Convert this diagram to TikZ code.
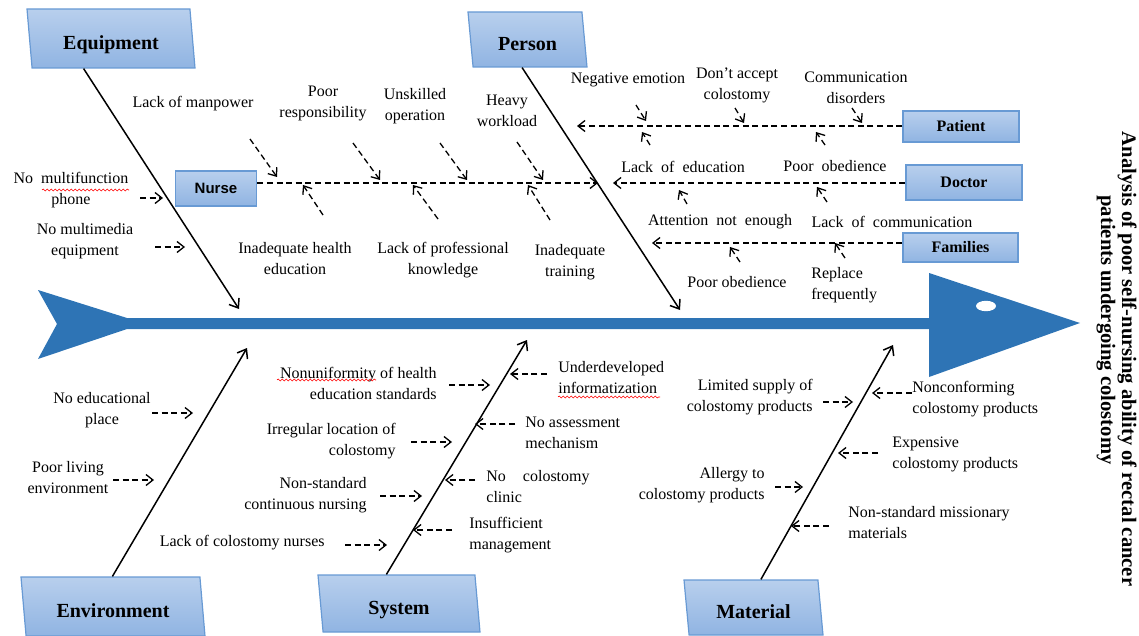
\documentclass[tikz,border=0pt]{standalone}
\usepackage{fontspec}
\setmainfont{Liberation Serif}
\newfontfamily\nursefont{Liberation Sans}
\usetikzlibrary{shapes.geometric}
\usetikzlibrary{arrows.meta}
\usetikzlibrary{calc}
\usetikzlibrary{decorations.pathmorphing}
\definecolor{spineblue}{RGB}{46,116,181}
\definecolor{boxtop}{RGB}{184,207,237}
\definecolor{boxbot}{RGB}{144,180,226}
\definecolor{boxedge}{RGB}{104,154,212}

\begin{document}
\begin{tikzpicture}[x=0.5pt,y=-0.5pt]
            \tikzset{bone/.style={line width=0.75pt,-{Straight Barb[length=4pt,width=6pt]}}};
            \tikzset{cause/.style={line width=0.65pt,dash pattern=on 3pt off 1.8pt,-{Straight Barb[length=3.5pt,width=5.5pt]}}};
            \tikzset{lbl/.style={inner sep=0pt,align=center,font=\fontsize{8}{10.5}\selectfont}};
            \tikzset{catbox/.style={trapezium,trapezium left angle=103,trapezium right angle=77,trapezium stretches body,draw=boxedge,line width=0.6pt,top color=boxtop,bottom color=boxbot,inner sep=0pt,text height=11pt,text depth=0pt,font=\fontsize{10}{12}\selectfont\bfseries}};
            \tikzset{subbox/.style={rectangle,draw=boxedge,line width=0.8pt,top color=boxtop,bottom color=boxbot,inner sep=0pt,font=\fontsize{8}{10}\selectfont\bfseries}};
            \tikzset{spell/.style={red,line width=0.3pt,decorate,decoration={snake,segment length=2pt,amplitude=0.5pt}}};

            \useasboundingbox (0,0) rectangle (1139,636);

            \fill[spineblue] (38,290) -- (127,318) -- (929,318) -- (929,273) -- (1080,323) -- (929,377) -- (929,329) -- (127,329) -- (38,359) -- (57,324) -- cycle;
            \fill[white] (986,306) ellipse [x radius=5pt,y radius=2.6pt];

            \node[catbox,minimum width=84pt,minimum height=29.5pt] (equip) at (111,38.5) {Equipment};
            \node[catbox,minimum width=59.5pt,minimum height=27.5pt] (person) at (527.5,39.5) {Person};
            \node[catbox,minimum width=92pt,minimum height=29.5pt] (envir) at (113,606.5) {Environment};
            \node[catbox,minimum width=81pt,minimum height=28.5pt] (system) at (399,603.5) {System};
            \node[catbox,minimum width=69.5pt,minimum height=27.5pt] (material) at (753.5,607.5) {Material};

            \coordinate (eqend) at (239,309);
            \coordinate (peend) at (680,310);
            \coordinate (enend) at (247,348);
            \coordinate (syend) at (527,340);
            \coordinate (maend) at (893,345);
            \draw[bone] ($(equip.bottom side)+(-30,0)$) -- (eqend);
            \draw[bone] ($(person.bottom side)+(-8,0)$) -- (peend);
            \draw[bone] ($(envir.top side)+(2,0)$) -- (enend);
            \draw[bone] ($(system.top side)+(-10,0)$) -- (syend);
            \draw[bone] ($(material.top side)+(10,0)$) -- (maend);

            \node[subbox,minimum width=40.5pt,minimum height=17.5pt,font=\nursefont\fontsize{7.5}{9}\selectfont\bfseries] (nurse) at (216,188.5) {Nurse};
            \node[subbox,minimum width=58pt,minimum height=15.5pt] (patient) at (961,126.5) {Patient};
            \node[subbox,minimum width=58pt,minimum height=17.5pt] (doctor) at (964,182.5) {Doctor};
            \node[subbox,minimum width=57.5pt,minimum height=14.5pt] (families) at (960.5,247.5) {Families};

            \coordinate (nurseend) at (598,183);
            \coordinate (patend) at (577,126);
            \coordinate (docend) at (613,183);
            \coordinate (famend) at (652,243);
            \draw[cause] (nurse.east |- nurseend) -- (nurseend);
            \draw[cause] (patient.west |- patend) -- (patend);
            \draw[cause] (doctor.west |- docend) -- (docend);
            \draw[cause] (families.west |- famend) -- (famend);

            \foreach \n/\ax/\ay/\bx/\by in {
                eqa/140/198/163/198, eqb/155/247/185/247,
                nua/250/139/277/177, nub/353/143/380/180, nuc/440/143/467/180, nud/517/142/543/180,
                nue/323/215/303/185, nuf/438/219/413/185, nug/550/220/528/185,
                paa/636/105/646/121, pab/735/108/744/123, pac/852/108/862/123,
                pad/650/145/642/132, pae/825/145/816/132,
                doa/687/204/679/190, dob/827/202/817/187,
                faa/740/262/730/247, fab/845/258/835/243,
                ena/152/413/193/413, enb/113/480/154/480,
                sya/449/385/490/385, syb/411/442/452/442, syc/380/496/422/496, syd/345/545/387/545,
                sye/547/374/510/374, syf/515/424/475/424, syg/475/480/445/480, syh/452/530/413/530,
                maa/823/402/853/402, mab/775/487/803/487,
                mac/912/393/872/393, mad/878/453/838/453, mae/829/526/791/526}
            {
                \coordinate (\n-from) at (\ax,\ay);
                \coordinate (\n-to) at (\bx,\by);
                \draw[cause] (\n-from) -- (\n-to);
            }

            \node[lbl] (multifn) at (71,190) {No\ \ multifunction\\phone};
            \node[lbl] (multimedia) at (85,241) {No multimedia\\equipment};

            \node[lbl] (manpower) at (193,104) {Lack of manpower};
            \node[lbl] (respons) at (323,103) {Poor\\responsibility};
            \node[lbl] (unskilled) at (415,106) {Unskilled\\operation};
            \node[lbl] (workload) at (507,110.5) {Heavy\\workload};
            \node[lbl] (healthedu) at (295,258.5) {Inadequate health\\education};
            \node[lbl] (profknow) at (443,260.5) {Lack of professional\\knowledge};
            \node[lbl] (training) at (570,262) {Inadequate\\training};

            \node[lbl] (negemo) at (628,80) {Negative emotion};
            \node[lbl] (noaccept) at (737,85) {Don't accept\\colostomy};
            \node[lbl] (commdis) at (856,88) {Communication\\disorders};
            \node[lbl] (lackedu) at (683,167) {Lack\ \ of\ \ education};
            \node[lbl] (docobey) at (835,166) {Poor\ \ obedience};
            \node[lbl] (attention) at (720,222) {Attention\ \ not\ \ enough};
            \node[lbl] (lackcomm) at (892,222) {Lack\ \ of\ \ communication};
            \node[lbl] (famobey) at (737,282) {Poor obedience};
            \node[lbl,anchor=west,align=left] (replace) at (811,285.5) {Replace\\frequently};

            \node[lbl] (noplace) at (102,410.5) {No educational\\place};
            \node[lbl] (living) at (68,477.5) {Poor living\\environment};

            \node[lbl,anchor=east,align=right] (nonunif) at (437,383) {Nonuniformity of health\\education standards};
            \node[lbl,anchor=east,align=right] (irregular) at (396,441) {Irregular location of\\colostomy};
            \node[lbl,anchor=east,align=right] (nonstd) at (367,495.5) {Non-standard\\continuous nursing};
            \node[lbl,anchor=east,align=right] (lacknurse) at (325,543) {Lack of colostomy nurses};
            \node[lbl,anchor=west,align=left] (underdev) at (558,378) {Underdeveloped\\informatization};
            \node[lbl,anchor=west,align=left] (noassess) at (525,432.5) {No assessment\\mechanism};
            \node[lbl,anchor=west,align=left] (noclinic) at (486,487) {No\hspace{6.5pt} colostomy\\clinic};
            \node[lbl,anchor=west,align=left] (insuff) at (469,535) {Insufficient\\management};

            \node[lbl,anchor=east,align=right] (limited) at (813,397) {Limited supply of\\colostomy products};
            \node[lbl,anchor=east,align=right] (allergy) at (765,485) {Allergy to\\colostomy products};
            \node[lbl,anchor=west,align=left] (nonconf) at (912,399) {Nonconforming\\colostomy products};
            \node[lbl,anchor=west,align=left] (expensive) at (892,454.5) {Expensive\\colostomy products};
            \node[lbl,anchor=west,align=left] (missionary) at (848,522.5) {Non-standard missionary\\materials};

            \draw[spell] (42,190) -- (129,190);
            \draw[spell] (277,380) -- (376,380);
            \draw[spell] (558,397) -- (660,397);

            \node[rotate=-90,inner sep=0pt,font=\fontsize{10.3}{12}\selectfont\bfseries] (title) at (1127,359) {Analysis of poor self-nursing ability of rectal cancer};
            \node[rotate=-90,inner sep=0pt,font=\fontsize{10.3}{12}\selectfont\bfseries] (subtitle) at (1106,330) {patients undergoing colostomy};
        \end{tikzpicture}
\end{document}
